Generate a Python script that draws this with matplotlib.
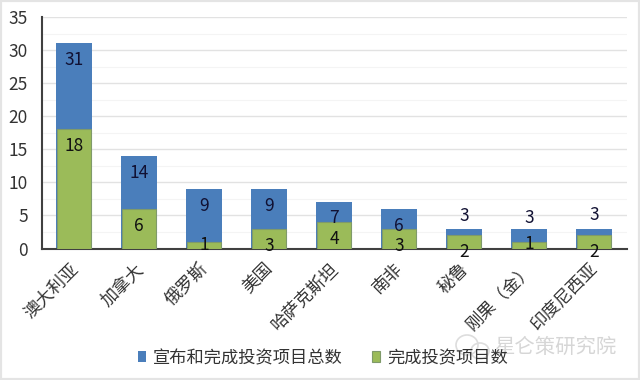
import matplotlib.pyplot as plt
from matplotlib.patches import Rectangle, Ellipse
from matplotlib.transforms import ScaledTranslation

plt.rcParams['font.family'] = ['Noto Sans CJK SC', 'DejaVu Sans']

countries = ['澳大利亚', '加拿大', '俄罗斯', '美国', '哈萨克斯坦', '南非', '秘鲁', '刚果（金）', '印度尼西亚']
total = [31, 14, 9, 9, 7, 6, 3, 3, 3]
done = [18, 6, 1, 3, 4, 3, 2, 1, 2]
# where the original chart left its data labels, in y units
total_label_y = [28.5, 11.4, 6.4, 6.4, 4.6, 3.4, 4.9, 4.6, 5.0]
done_label_y = [15.5, 3.4, 0.5, 0.4, 1.4, 0.4, -0.6, 0.7, -0.6]

blue = '#4a7ebb'
green = '#9bbb59'

fig = plt.figure(figsize=(6.4, 3.8), dpi=100)
ax = fig.add_axes([41.5/640, 1 - 248.5/380, 585/640, 231.5/380])

x = range(len(countries))
ax.bar(x, total, 0.55, color=blue, label='宣布和完成投资项目总数', zorder=2)
ax.bar(x, done, 0.52, color=green, edgecolor='#7f9a6a', linewidth=0.8, label='完成投资项目数', zorder=3)

for i in x:
    ax.text(i, total_label_y[i], str(total[i]), ha='center', va='center', fontsize=12.5, color='#111133', zorder=5)
    ax.text(i, done_label_y[i], str(done[i]), ha='center', va='center', fontsize=12.5, color='#111111', zorder=5)

ax.set_xlim(-0.5, 8.5)
ax.set_ylim(0, 35)
ax.set_yticks(range(0, 36, 5))
ax.set_yticks([2.5 + 5*k for k in range(7)], minor=True)
ax.grid(axis='y', which='major', color='#e2e2e2', lw=1, zorder=0)
ax.grid(axis='y', which='minor', color='#f4f4f4', lw=0.8, zorder=0)
ax.set_axisbelow(True)
ax.tick_params(axis='both', which='both', length=0)
ax.tick_params(axis='y', labelsize=12.5, labelcolor='#333333', pad=10)
ax.set_xticks(list(x))
ax.set_xticklabels(countries, rotation=45, ha='right', rotation_mode='anchor', fontsize=12.5, color='#333333')
ax.tick_params(axis='x', pad=8)
# the labels sit a little left of the tick in the original
shift = ScaledTranslation(-5/100, 0, fig.dpi_scale_trans)
for lab in ax.get_xticklabels():
    lab.set_transform(lab.get_transform() + shift)
for s in ['top', 'right']:
    ax.spines[s].set_visible(False)
for s in ['left', 'bottom']:
    ax.spines[s].set_color('#404040')
    ax.spines[s].set_linewidth(1.5)

fig.legend(loc='center', bbox_to_anchor=(323/640, 1 - 358/380), ncol=2, frameon=False, fontsize=12.4,
           handlelength=0.45, handleheight=0.6, handletextpad=0.4, columnspacing=1.7, labelcolor='#333333')

# watermark
fig.text(495/640, 1 - 347/380, '星仑策研究院', fontsize=14.7, color='#d6d6d6', ha='left', va='center')
fig.add_artist(Ellipse((467/640, 1 - 345/380), 22/640, 20/380, transform=fig.transFigure, fill=False, edgecolor='#dddddd', lw=1.2))
fig.add_artist(Ellipse((480/640, 1 - 351/380), 18/640, 16/380, transform=fig.transFigure, fill=False, edgecolor='#dddddd', lw=1.2))

# thin grey frame from the screenshot
fig.add_artist(Rectangle((0, 0), 1, 1, transform=fig.transFigure, fill=False, edgecolor='#e4e4e4', lw=3))

fig.savefig('out.png', dpi=100)
